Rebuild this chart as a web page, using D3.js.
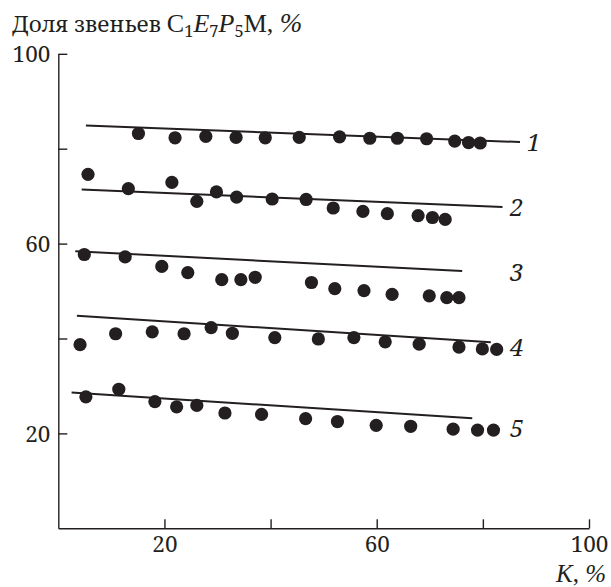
<!DOCTYPE html>
<html>
<head>
<meta charset="utf-8">
<script src="https://cdn.jsdelivr.net/npm/d3@7"></script>
<style>
  html, body { margin: 0; padding: 0; background: #fff; }
</style>
</head>
<body>
<svg id="chart" width="611" height="587"></svg>
<script>
// Measured points, K (%) and share of C1E7P5M units (%)
const k1 = [15.1, 22.0, 27.8, 33.5, 39.0, 45.4, 53.0, 58.7, 63.9, 69.4, 74.7, 77.3, 79.5];
const v1 = [83.2, 82.3, 82.6, 82.4, 82.3, 82.4, 82.5, 82.2, 82.2, 82.1, 81.6, 81.3, 81.2];
const k2 = [5.6, 13.2, 21.4, 26.1, 29.8, 33.6, 40.3, 46.7, 51.8, 57.4, 62.0, 67.8, 70.5, 72.9];
const v2 = [74.6, 71.6, 72.9, 68.9, 70.9, 69.8, 69.4, 69.3, 67.5, 66.8, 66.3, 65.9, 65.5, 65.1];
const k3 = [4.9, 12.6, 19.5, 24.4, 30.8, 34.4, 37.1, 47.7, 52.1, 57.6, 62.9, 69.9, 73.2, 75.5];
const v3 = [57.7, 57.2, 55.2, 53.9, 52.4, 52.4, 52.9, 51.8, 50.5, 50.1, 49.3, 49.0, 48.6, 48.6];
const k4 = [4.1, 10.8, 17.7, 23.7, 28.8, 32.8, 40.8, 49.0, 55.7, 61.6, 68.0, 75.5, 79.9, 82.6];
const v4 = [38.7, 41.0, 41.4, 41.0, 42.3, 41.1, 40.2, 39.9, 40.2, 39.3, 38.8, 38.2, 37.8, 37.7];
const k5 = [5.2, 11.4, 18.2, 22.3, 26.1, 31.4, 38.3, 46.6, 52.6, 59.9, 66.4, 74.4, 79.0, 82.0];
const v5 = [27.7, 29.3, 26.7, 25.6, 25.9, 24.3, 24.0, 23.1, 22.5, 21.7, 21.5, 20.9, 20.7, 20.7];

// Calculated lines: [K start, K end] and [value start, value end]
const lineK = [[5.2, 87.0], [4.4, 83.7], [3.2, 76.1], [3.5, 81.5], [2.5, 78.0]];
const lineV = [[84.9, 81.4], [71.4, 67.7], [58.4, 54.2], [44.8, 39.2], [28.6, 23.2]];

// Curve numbers and where they sit
const curveNames = ['1', '2', '3', '4', '5'];
const nameK = [88.3, 85.1, 85.1, 85.1, 85.1];
const nameV = [81.4, 67.7, 54.0, 38.2, 21.1];

const xTicks = [20, 40, 60, 80, 100];
const yTicks = [20, 40, 60, 80, 100];
const tickLabels = [20, 60, 100];

const INK = '#231f20';
// Liberation Serif here renders Latin only; Cyrillic and digits go through Noto Serif
const SERIF = '"Noto Serif", serif';
const LATIN = '"Liberation Serif", "Noto Serif", serif';
const svg = d3.select('#chart');

const x = d3.scaleLinear().domain([0, 100]).range([58.3, 589]);
const y = d3.scaleLinear().domain([0, 100]).range([528.3, 53.8]);

const fmt = (d) => tickLabels.includes(d) ? String(d) : '';

// Axes, ticks pointing inward
const xAxis = svg.append('g')
  .attr('transform', 'translate(0,' + y(0) + ')')
  .call(d3.axisBottom(x).tickValues(xTicks).tickFormat(fmt)
    .tickSizeInner(-9).tickSizeOuter(0).tickPadding(8));

const yAxis = svg.append('g')
  .attr('transform', 'translate(' + x(0) + ',0)')
  .call(d3.axisLeft(y).tickValues(yTicks).tickFormat(fmt)
    .tickSizeInner(-9).tickSizeOuter(0).tickPadding(8));

[xAxis, yAxis].forEach((g) => {
  g.attr('font-family', SERIF).attr('font-size', 22.5);
  g.selectAll('path, line').attr('stroke', INK).attr('stroke-width', 1.4);
  g.selectAll('text').attr('fill', INK);
});
xAxis.selectAll('text').attr('dy', '0.72em');
yAxis.selectAll('text').attr('dy', '0.36em');

// Fit lines
const lineGen = d3.line().x((d) => x(d[0])).y((d) => y(d[1]));
lineK.forEach((ks, i) => {
  svg.append('path')
    .attr('d', lineGen([[ks[0], lineV[i][0]], [ks[1], lineV[i][1]]]))
    .attr('fill', 'none')
    .attr('stroke', INK)
    .attr('stroke-width', 2);
});

// Points
const seriesK = [k1, k2, k3, k4, k5];
const seriesV = [v1, v2, v3, v4, v5];
seriesK.forEach((ks, i) => {
  svg.append('g').selectAll('circle')
    .data(ks.map((k, j) => [k, seriesV[i][j]]))
    .join('circle')
    .attr('cx', (d) => x(d[0]))
    .attr('cy', (d) => y(d[1]))
    .attr('r', 6.6)
    .attr('fill', INK);
});

// Curve numbers
svg.append('g').selectAll('text')
  .data(curveNames)
  .join('text')
  .attr('x', (d, i) => x(nameK[i]))
  .attr('y', (d, i) => y(nameV[i]))
  .attr('dy', '0.36em')
  .attr('font-family', SERIF)
  .attr('font-size', 24)
  .attr('font-style', 'italic')
  .attr('fill', INK)
  .text((d) => d);

// Y title: Доля звеньев C1E7P5M, %
const title = svg.append('text')
  .attr('x', 12)
  .attr('y', 32)
  .attr('font-family', SERIF)
  .attr('font-size', 22.5)
  .attr('fill', INK);
title.append('tspan').text('Доля звеньев ');
title.append('tspan').attr('font-family', LATIN).attr('font-size', 26).text('C');
title.append('tspan').attr('font-size', 16.5).attr('dy', 5).text('1');
title.append('tspan').attr('font-family', LATIN).attr('font-size', 26).attr('font-style', 'italic').attr('dy', -5).text('E');
title.append('tspan').attr('font-size', 16.5).attr('dy', 5).text('7');
title.append('tspan').attr('font-family', LATIN).attr('font-size', 26).attr('font-style', 'italic').attr('dy', -5).text('P');
title.append('tspan').attr('font-size', 16.5).attr('dy', 5).text('5');
title.append('tspan').attr('font-family', LATIN).attr('font-size', 26).attr('dy', -5).text('M, ');
title.append('tspan').attr('font-family', LATIN).attr('font-size', 27).attr('font-style', 'italic').text('%');

// X title: K, %
const xTitle = svg.append('text')
  .attr('x', 606)
  .attr('y', 582)
  .attr('text-anchor', 'end')
  .attr('font-family', LATIN)
  .attr('font-size', 25)
  .attr('fill', INK);
xTitle.append('tspan').attr('font-style', 'italic').text('K');
xTitle.append('tspan').text(', ');
xTitle.append('tspan').attr('font-style', 'italic').text('%');
</script>
</body>
</html>
